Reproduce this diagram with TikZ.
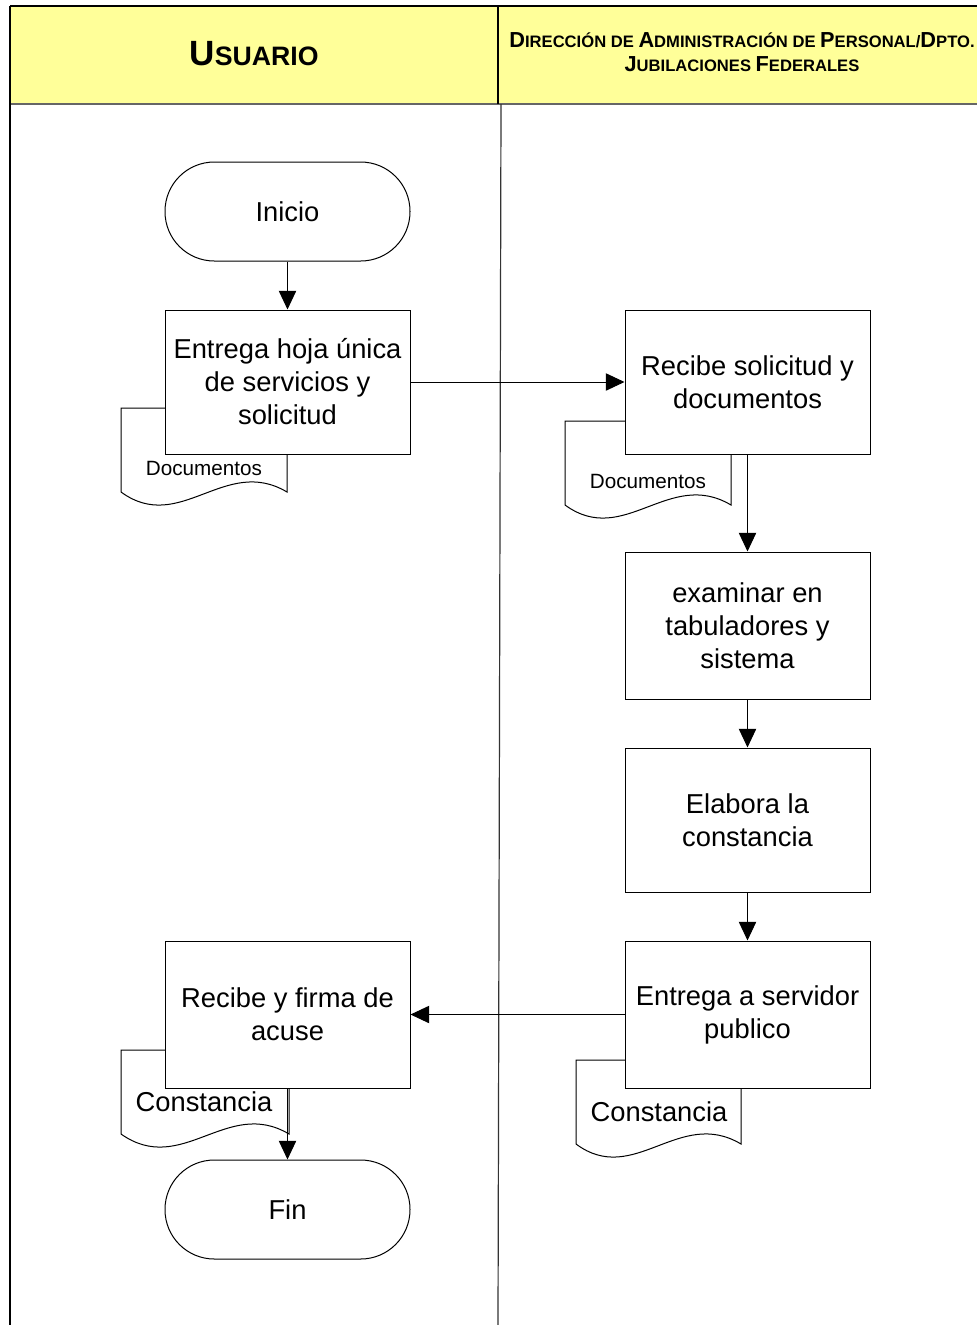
\documentclass[tikz,border=0pt]{standalone}
\usepackage{fontspec}
\setmainfont{Liberation Sans}
\usetikzlibrary{arrows.meta}
% hand-made small capitals for the lane headings
\newcommand{\hdBig}[2]{{\fontsize{#1}{#1}\selectfont #2}}
\definecolor{laneyellow}{HTML}{FFFF99}
\tikzset{
  box/.style={draw, fill=white, line width=0.75pt, minimum width=183.75pt, minimum height=108pt,
    align=center, inner sep=2pt, font=\fontsize{20.5}{24.75}\selectfont},
  tallbox/.style={box, minimum height=110.25pt},
  term/.style={draw, fill=white, line width=0.75pt, rounded corners=37pt, minimum width=183.75pt,
    minimum height=74.25pt, font=\fontsize{20.5}{24.75}\selectfont},
  docshape/.style={draw, fill=white, line width=0.75pt},
  doclabel/.style={inner sep=0pt},
  flow/.style={line width=0.75pt, -{Triangle[length=14pt,width=13pt]}},
  lane/.style={line width=0.9pt}
}
\begin{document}
\begin{tikzpicture}[x=0.75pt, y=-0.75pt]
\useasboundingbox (0,0) rectangle (977,1325);
% header band
\fill[laneyellow] (10,6) rectangle (977,104);
\draw[line width=1.1pt] (10,6) -- (977,6);
\draw[line width=1.4pt, black!60] (10,104) -- (977,104);
\draw[lane] (498,6) -- (498,104);
\draw[lane] (10,6) -- (10,1325);
\draw[lane, black!80] (501,104) -- (498,1325);
\node[anchor=base, font=\bfseries] (h1) at (254,65) {\hdBig{26.3}{U}\hdBig{20}{SUARIO}};
\node[anchor=base, font=\bfseries] (h2a) at (742,47.3)
  {\hdBig{16.3}{D}\hdBig{12.45}{IRECCIÓN DE }\hdBig{16.3}{A}\hdBig{12.45}{DMINISTRACIÓN DE }\hdBig{16.3}{P}\hdBig{12.45}{ERSONAL/}\hdBig{16.3}{D}\hdBig{12.45}{PTO.}};
\node[anchor=base, font=\bfseries] (h2b) at (742,71.5)
  {\hdBig{16.3}{J}\hdBig{12.45}{UBILACIONES }\hdBig{16.3}{F}\hdBig{12.45}{EDERALES}};

% documents lying behind the process boxes
\draw[docshape] (121,492) -- (121,408) -- (287,408) -- (287,492)
  .. controls (225,455) and (180,535) .. (121,492) -- cycle;
\node[doclabel, font=\fontsize{15.5}{18}\selectfont] (d1) at (204,468) {Documentos};
\draw[docshape] (565,505) -- (565,421) -- (731,421) -- (731,505)
  .. controls (669,468) and (624,548) .. (565,505) -- cycle;
\node[doclabel, font=\fontsize{15.5}{18}\selectfont] (d2) at (648,481) {Documentos};
\draw[docshape] (121,1134) -- (121,1050) -- (289,1050) -- (289,1134)
  .. controls (227,1097) and (182,1177) .. (121,1134) -- cycle;
\node[doclabel, font=\fontsize{20.5}{24}\selectfont] (d3) at (204,1102) {Constancia};
\draw[docshape] (576,1144) -- (576,1060) -- (741,1060) -- (741,1144)
  .. controls (679,1107) and (634,1187) .. (576,1144) -- cycle;
\node[doclabel, font=\fontsize{20.5}{24}\selectfont] (d4) at (659,1112) {Constancia};

% steps
\node[term] (ini) at (287.5,211.5) {Inicio};
\node[box] (a1) at (287.5,382) {Entrega hoja única\\de servicios y\\solicitud};
\node[box] (b1) at (747.5,382) {Recibe solicitud y\\documentos};
\node[tallbox] (b2) at (747.5,625.5) {examinar en\\tabuladores y\\sistema};
\node[box] (b3) at (747.5,820) {Elabora la\\constancia};
\node[tallbox] (b4) at (747.5,1014.5) {Entrega a servidor\\publico};
\node[tallbox] (a2) at (287.5,1014.5) {Recibe y firma de\\acuse};
\node[term] (fin) at (287.5,1209.5) {Fin};

% flow
\draw[flow] (ini) -- (a1);
\draw[flow] (a1) -- (b1);
\draw[flow] (b1) -- (b2);
\draw[flow] (b2) -- (b3);
\draw[flow] (b3) -- (b4);
\draw[flow] (b4) -- (a2);
\draw[flow] (a2) -- (fin);
\end{tikzpicture}
\end{document}
